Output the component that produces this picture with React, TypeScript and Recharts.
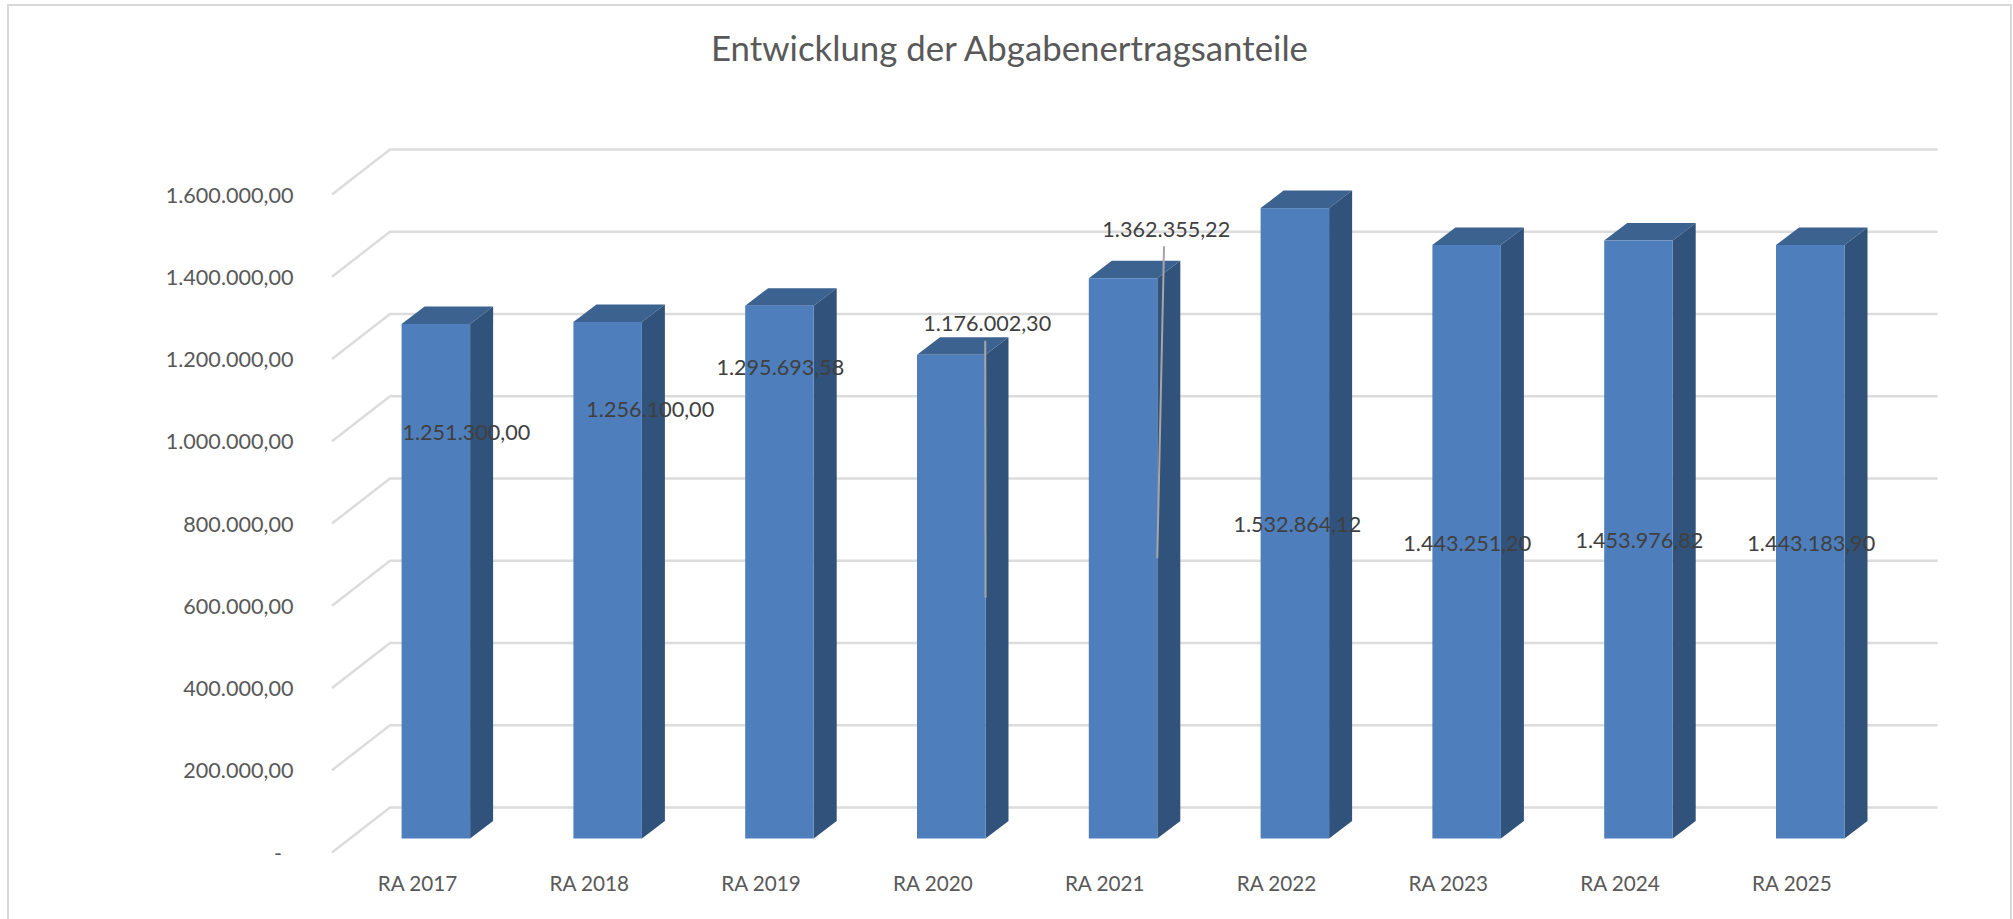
import { BarChart, Bar, XAxis, YAxis, CartesianGrid, LabelList } from "recharts";

const categories = ["RA 2017", "RA 2018", "RA 2019", "RA 2020", "RA 2021", "RA 2022", "RA 2023", "RA 2024", "RA 2025"];
const values = [1251300.0, 1256100.0, 1295693.58, 1176002.3, 1362355.22, 1532864.12, 1443251.2, 1453976.82, 1443183.9];
const yTicks = [0, 200000, 400000, 600000, 800000, 1000000, 1200000, 1400000, 1600000];

const chartData = categories.map((category, i) => ({ category, value: values[i] }));

// the labels were dragged by hand in the original, offsets are from the bar's top centre
const labelOffsets = [
  [30.5, 108.5], [42.6, 87.5], [0.9, 61.5], [36, -31.5], [43.2, -48.5], [2.5, 316.5], [0.6, 298], [0.9, 299.5], [1, 298],
];
// leader lines, [x1, y1, x2, y2] from the same point
const leaders: Record<number, number[]> = {
  3: [34, -14, 34.3, 243],
  4: [41, -32, 34.2, 280],
};

const font = "Lato, Carlito, sans-serif";
const depthX = 23;
const depthY = 17.5;

const fmt = (v: number) =>
  v === 0 ? "-" : v.toLocaleString("de-DE", { minimumFractionDigits: 2, maximumFractionDigits: 2 });

function Box3D({ x, y, width, height }: any) {
  const r = x + width;
  const b = y + height;
  return (
    <g>
      <polygon points={`${x},${y} ${x + depthX},${y - depthY} ${r + depthX},${y - depthY} ${r},${y}`} fill="#3c6290" />
      <polygon points={`${r},${y} ${r + depthX},${y - depthY} ${r + depthX},${b - depthY} ${r},${b}`} fill="#31527a" />
      <rect x={x} y={y} width={width} height={height} fill="#4e7fbc" />
    </g>
  );
}

function GridLine({ x1, y1, x2 }: any) {
  // y1 is where the value sits on the bars' front plane
  const left = x1 - 17.6;
  const backX = x1 + 40.4;
  const right = x2 + 41.8;
  return (
    <polyline
      points={`${left},${y1 + 14} ${backX},${y1 - 31} ${right},${y1 - 31}`}
      fill="none"
      stroke="#dcdcdc"
      strokeWidth={2.4}
    />
  );
}

function YTick({ y, payload }: any) {
  const isZero = payload.value === 0;
  return (
    <text x={isZero ? 282 : 293.5} y={y + 14.5} dy="0.35em" textAnchor="end" fontFamily={font} fontSize={21.6} fill="#595959">
      {fmt(payload.value)}
    </text>
  );
}

function XTick({ x, y, payload }: any) {
  return (
    <text x={x - 18} y={y + 39} dy="0.35em" textAnchor="middle" fontFamily={font} fontSize={20.7} fill="#595959">
      {payload.value}
    </text>
  );
}

function BarLabel({ x, y, width, value, index }: any) {
  const cx = x + width / 2;
  const [dx, dy] = labelOffsets[index];
  const leader = leaders[index];
  return (
    <g>
      {leader && (
        <line
          x1={cx + leader[0]}
          y1={y + leader[1]}
          x2={cx + leader[2]}
          y2={y + leader[3]}
          stroke="#a6a6a6"
          strokeWidth={2}
        />
      )}
      <text x={cx + dx} y={y + dy} dy="0.35em" textAnchor="middle" fontFamily={font} fontSize={21.6} fill="#404040">
        {fmt(value)}
      </text>
    </g>
  );
}

export default function App() {
  return (
    <div style={{ position: "absolute", left: 0, top: 0, width: 2013, height: 919, background: "#fff", overflow: "hidden" }}>
      <div
        style={{
          position: "absolute",
          left: 7,
          top: 4,
          width: 2001,
          height: 930,
          border: "2px solid #d9d9d9",
        }}
      />
      <BarChart
        width={2013}
        height={920}
        data={chartData}
        margin={{ top: 180.5, right: 117.2, bottom: 0, left: 289.6 }}
        barSize={68.5}
        style={{ position: "absolute" }}
      >
        <text x={1009.5} y={49} dy="0.35em" textAnchor="middle" fontFamily={font} fontSize={34.8} fill="#595959">
          Entwicklung der Abgabenertragsanteile
        </text>
        <CartesianGrid vertical={false} horizontal={(p: any) => <GridLine key={p.key} {...p} />} />
        <XAxis dataKey="category" axisLine={false} tickLine={false} height={81.5} tick={<XTick />} tickMargin={0} />
        <YAxis
          width={60}
          domain={[0, 1600000]}
          ticks={yTicks}
          axisLine={false}
          tickLine={false}
          interval={0}
          tick={<YTick />}
        />
        <Bar dataKey="value" shape={<Box3D />} isAnimationActive={false}>
          <LabelList dataKey="value" content={<BarLabel />} />
        </Bar>
      </BarChart>
    </div>
  );
}
